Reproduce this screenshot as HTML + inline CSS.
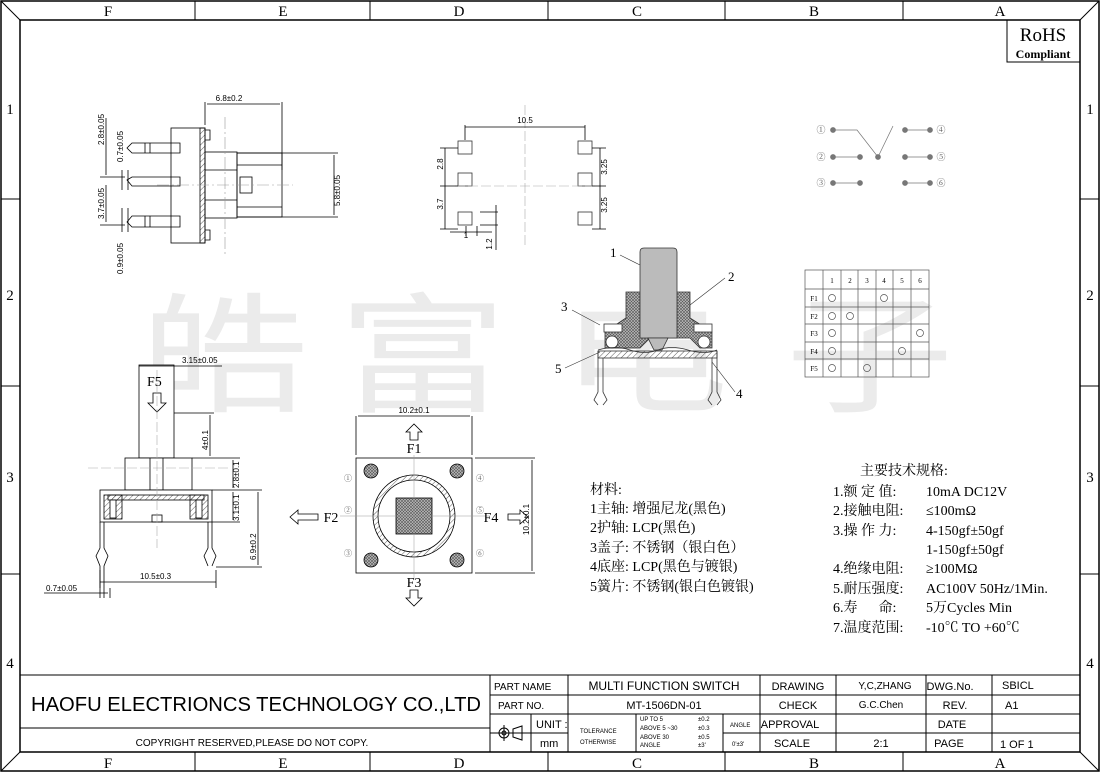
<!DOCTYPE html>
<html><head><meta charset="utf-8"><style>
html,body{margin:0;padding:0;background:#fff}
svg{display:block}
.t{font-family:"Liberation Sans","Noto Sans CJK SC",sans-serif}
.s{font-family:"Liberation Serif","Noto Serif CJK SC",serif}
</style></head><body>
<svg width="1100" height="773" viewBox="0 0 1100 773" xmlns="http://www.w3.org/2000/svg">
<defs>
<pattern id="h" width="4" height="4" patternUnits="userSpaceOnUse" patternTransform="rotate(45)"><line x1="0" y1="0" x2="0" y2="4" stroke="#333" stroke-width="0.8"/></pattern>
<pattern id="x" width="3" height="3" patternUnits="userSpaceOnUse"><rect width="3" height="3" fill="#bbb"/><path d="M0 0L3 3M3 0L0 3" stroke="#555" stroke-width="0.6"/></pattern>
</defs>
<!-- watermark -->
<g fill="#ebebeb" font-family="Noto Sans CJK SC,sans-serif" font-size="130">
<text transform="translate(140,402) scale(1.3,1)">皓</text>
<text transform="translate(338,402) scale(1.3,1)">富</text>
<text transform="translate(560,402) scale(1.3,1)">电</text>
<text transform="translate(785,402) scale(1.3,1)">子</text>
</g>
<!-- frame -->
<g stroke="#000" fill="none">
<rect x="1" y="1" width="1098" height="770" stroke-width="1.5"/>
<rect x="20" y="20" width="1060" height="732" stroke-width="1.5"/>
<path d="M1 1L20 20M1099 1L1080 20M1 771L20 752M1099 771L1080 752"/>
<path d="M195 1V20M370 1V20M548 1V20M725 1V20M903 1V20M195 752V771M370 752V771M548 752V771M725 752V771M903 752V771"/>
<path d="M1 199H20M1 386H20M1 574H20M1080 199H1099M1080 386H1099M1080 574H1099"/>
<rect x="1007" y="20" width="73" height="42"/>
</g>
<g class="s" font-size="15" text-anchor="middle">
<text x="108" y="16">F</text><text x="283" y="16">E</text><text x="459" y="16">D</text><text x="637" y="16">C</text><text x="814" y="16">B</text><text x="1000" y="16">A</text>
<text x="108" y="768">F</text><text x="283" y="768">E</text><text x="459" y="768">D</text><text x="637" y="768">C</text><text x="814" y="768">B</text><text x="1000" y="768">A</text>
<text x="10" y="114">1</text><text x="10" y="300">2</text><text x="10" y="482">3</text><text x="10" y="668">4</text>
<text x="1090" y="114">1</text><text x="1090" y="300">2</text><text x="1090" y="482">3</text><text x="1090" y="668">4</text>
<text x="1043" y="41" font-size="19">RoHS</text>
<text x="1043" y="58" font-size="12" font-weight="bold">Compliant</text>
</g>
<!-- title block -->
<g stroke="#000" fill="none">
<path d="M20 675H1080M20 728H490M490 695H1080M490 714H1080M490 733H568M723 733H1080M490 675V752"/>
<path d="M568 675V752M760 675V752M836 675V752M926 675V752M992 675V752M531 714V752M636 714V752M723 714V752"/>
</g>
<g class="t" font-size="11">
<text x="31" y="711" font-size="20" textLength="450" lengthAdjust="spacingAndGlyphs">HAOFU ELECTRIONCS TECHNOLOGY CO.,LTD</text>
<text x="252" y="746" text-anchor="middle" font-size="10">COPYRIGHT RESERVED,PLEASE DO NOT COPY.</text>
<text x="494" y="690" font-size="10">PART NAME</text><text x="498" y="709" font-size="10">PART NO.</text>
<text x="664" y="690" text-anchor="middle" font-size="12">MULTI FUNCTION SWITCH</text>
<text x="664" y="709" text-anchor="middle">MT-1506DN-01</text>
<text x="536" y="728">UNIT :</text><text x="540" y="747">mm</text>
<text x="580" y="733" font-size="6">TOLERANCE</text><text x="580" y="744" font-size="6">OTHERWISE</text>
<g font-size="6"><text x="640" y="721">UP TO 5</text><text x="640" y="730">ABOVE 5 ~30</text><text x="640" y="739">ABOVE 30</text><text x="640" y="747">ANGLE</text>
<text x="698" y="721">±0.2</text><text x="698" y="730">±0.3</text><text x="698" y="739">±0.5</text><text x="698" y="747">±3'</text>
<text x="730" y="727">ANGLE</text><text x="732" y="746">0'±3'</text></g>
<text x="798" y="690" text-anchor="middle">DRAWING</text><text x="798" y="709" text-anchor="middle">CHECK</text>
<text x="790" y="728" text-anchor="middle">APPROVAL</text><text x="792" y="747" text-anchor="middle">SCALE</text>
<text x="885" y="689" text-anchor="middle" font-size="10">Y,C,ZHANG</text><text x="881" y="708" text-anchor="middle" font-size="10">G.C.Chen</text>
<text x="881" y="747" text-anchor="middle">2:1</text>
<text x="950" y="690" text-anchor="middle">DWG.No.</text><text x="955" y="709" text-anchor="middle">REV.</text>
<text x="952" y="728" text-anchor="middle">DATE</text><text x="949" y="747" text-anchor="middle">PAGE</text>
<text x="1002" y="689">SBICL</text><text x="1005" y="709">A1</text><text x="1000" y="748">1 OF 1</text>
</g>
<g stroke="#000" fill="none"><circle cx="504" cy="733" r="5"/><circle cx="504" cy="733" r="2"/><path d="M496 733H513M504 725V741M513 729L522 726V740L513 737Z"/></g>

<!-- top-left side view -->
<g stroke="#000" fill="none" stroke-width="0.8">
<rect x="171" y="128" width="34" height="115"/>
<rect x="200" y="128" width="5" height="115" fill="url(#h)"/>
<path d="M205 130H210V140H205M205 230H210V240H205"/>
<rect x="205" y="152" width="32" height="66"/>
<path d="M205 170H237M205 200H237"/>
<rect x="237" y="153" width="45" height="64"/>
<path d="M237 165H282M237 207H282"/>
<rect x="240" y="177" width="12" height="16"/>
<path d="M127 148L132 143H180V153H132ZM145 143V153M150 143V153"/>
<path d="M127 180L132 177H180V186H132Z"/>
<path d="M127 222L132 216H180V227H132ZM145 216V227M150 216V227"/>
<path d="M205 102V125M282 102V170M207 104H280M237 153H338M237 217H338M334 155V215" />
<path d="M106 118V175M106 185V222M100 177H125M100 225H125M122 170V190M122 208V232M128 170V190M128 208V232"/>
</g>
<path d="M225 117V255M157 185H293" stroke="#999" stroke-width="0.6" stroke-dasharray="12 3 2 3"/>
<g class="t" font-size="8">
<text x="229" y="101" text-anchor="middle">6.8±0.2</text>
<text transform="translate(340,206) rotate(-90)">5.8±0.05</text>
<text transform="translate(104,145) rotate(-90)">2.8±0.05</text>
<text transform="translate(123,162) rotate(-90)">0.7±0.05</text>
<text transform="translate(104,219) rotate(-90)">3.7±0.05</text>
<text transform="translate(123,274) rotate(-90)">0.9±0.05</text>
</g>

<!-- pad layout -->
<g stroke="#333" fill="#fff" stroke-width="0.8">
<rect x="458" y="141" width="14" height="13"/><rect x="458" y="173" width="14" height="13"/><rect x="458" y="212" width="14" height="13"/>
<rect x="578" y="141" width="14" height="13"/><rect x="578" y="173" width="14" height="13"/><rect x="578" y="212" width="14" height="13"/>
</g>
<path d="M525 105V247M455 186H595" stroke="#aaa" stroke-width="0.6" stroke-dasharray="10 3"/>
<g stroke="#000" fill="none" stroke-width="0.8">
<path d="M465 125V140M585 125V140M465 127H585M445 148V229M440 148H458M440 186H458M440 229H458M600 148V229M592 148H606M592 186H606M592 229H606M466 226V236M477 226V236M450 232H492M496 205V250M480 212H498M480 225H498"/>
</g>
<g class="t" font-size="8" text-anchor="middle">
<text x="525" y="123">10.5</text>
<text transform="translate(443,164) rotate(-90)">2.8</text><text transform="translate(443,204) rotate(-90)">3.7</text>
<text transform="translate(607,167) rotate(-90)">3.25</text><text transform="translate(607,205) rotate(-90)">3.25</text>
<text x="466" y="238">1</text><text transform="translate(492,244) rotate(-90)">1.2</text>
</g>

<!-- schematic -->
<g stroke="#777" fill="#777" stroke-width="0.7">
<path d="M833 130H857L878 157M878 157L893 126M833 157H860M833 183H860M905 130H930M905 157H930M905 183H930" fill="none"/>
<circle cx="833" cy="130" r="2.5"/><circle cx="833" cy="157" r="2.5"/><circle cx="833" cy="183" r="2.5"/>
<circle cx="860" cy="157" r="2.5"/><circle cx="860" cy="183" r="2.5"/><circle cx="878" cy="157" r="2.5"/>
<circle cx="905" cy="130" r="2.5"/><circle cx="905" cy="157" r="2.5"/><circle cx="905" cy="183" r="2.5"/>
<circle cx="930" cy="130" r="2.5"/><circle cx="930" cy="157" r="2.5"/><circle cx="930" cy="183" r="2.5"/>
</g>
<g class="s" font-size="9" fill="#555" text-anchor="middle">
<text x="821" y="133">①</text><text x="821" y="160">②</text><text x="821" y="186">③</text>
<text x="941" y="133">④</text><text x="941" y="160">⑤</text><text x="941" y="186">⑥</text>
</g>

<!-- cross section -->
<g stroke="#333" stroke-width="0.8">
<path d="M626 292H640V338H677V292H690V318L712 332V348H700L690 338H650L640 348H605V332L626 318Z" fill="url(#x)"/>
<path d="M644 248H673Q677 248 677 252V338H640V252Q640 248 644 248Z" fill="#bbb"/>
<path d="M648 338H668L662 350H654Z" fill="#bbb"/>
<rect x="604" y="324" width="18" height="8" fill="#fff"/><rect x="694" y="324" width="18" height="8" fill="#fff"/>
<circle cx="612" cy="342" r="6" fill="#fff"/><circle cx="704" cy="342" r="6" fill="#fff"/>
<path d="M598 350Q615 345 630 350T658 350T688 350T717 350" fill="none"/>
<rect x="598" y="351" width="119" height="7" fill="url(#h)"/>
<path d="M598 351V392L594 400L598 405M603 358V392L607 400L603 405M717 351V392L721 400L717 405M712 358V392L708 400L712 405" fill="none"/>
<path d="M620 255L640 265M725 278L690 305M572 310L600 325M565 368L600 352M735 392L712 362" fill="none" stroke-width="0.6"/>
</g>
<g class="s" font-size="13">
<text x="610" y="257">1</text><text x="728" y="281">2</text><text x="561" y="311">3</text><text x="555" y="373">5</text><text x="736" y="398">4</text>
</g>

<!-- table -->
<g stroke="#555" fill="none" stroke-width="0.7">
<rect x="805" y="270" width="124" height="107"/>
<path d="M823 270V377M841 270V377M858 270V377M876 270V377M893 270V377M911 270V377M805 289H929M805 307H929M805 324H929M805 342H929M805 359H929"/>
<circle cx="832" cy="298" r="3.5"/><circle cx="884" cy="298" r="3.5"/>
<circle cx="832" cy="316" r="3.5"/><circle cx="850" cy="316" r="3.5"/>
<circle cx="832" cy="333" r="3.5"/><circle cx="920" cy="333" r="3.5"/>
<circle cx="832" cy="351" r="3.5"/><circle cx="902" cy="351" r="3.5"/>
<circle cx="832" cy="368" r="3.5"/><circle cx="867" cy="368" r="3.5"/>
</g>
<g class="s" font-size="7" text-anchor="middle">
<text x="832" y="283">1</text><text x="850" y="283">2</text><text x="867" y="283">3</text><text x="884" y="283">4</text><text x="902" y="283">5</text><text x="920" y="283">6</text>
<text x="814" y="301">F1</text><text x="814" y="319">F2</text><text x="814" y="336">F3</text><text x="814" y="354">F4</text><text x="814" y="371">F5</text>
</g>

<!-- bottom-left side view -->
<g stroke="#000" fill="none" stroke-width="0.8">
<rect x="139" y="365" width="35" height="93" fill="#fff"/>
<rect x="125" y="458" width="67" height="32" fill="#fff"/>
<path d="M150 458V490M163 458V490"/>
<rect x="100" y="490" width="112" height="32" fill="#fff"/>
<rect x="108" y="495" width="96" height="5" fill="url(#h)"/>
<rect x="104" y="495" width="18" height="24" fill="url(#h)"/><rect x="190" y="495" width="18" height="24" fill="url(#h)"/>
<rect x="110" y="500" width="6" height="18" fill="#fff"/><rect x="196" y="500" width="6" height="18" fill="#fff"/>
<rect x="152" y="515" width="10" height="7"/>
<path d="M100 522V548L96 556L100 566V598M104 522V548L108 556L104 566V598M212 522V548L216 556L212 566M208 522V548L204 556L208 566"/>
<path d="M139 366H222M174 413H214M210 415V456M192 458H240M212 490H262M212 522H240M216 567H262M258 492V565M233 460V488M233 492V520M100 582H216M100 570V588M216 570V588M44 593H108M110 588V598"/>
<path d="M153 393H161V403H166L157 412L148 403H153Z" fill="#fff"/>
</g>
<path d="M88 468H230M157 370V548" stroke="#aaa" stroke-width="0.6" stroke-dasharray="10 3"/>
<g class="t" font-size="8">
<text x="182" y="363">3.15±0.05</text>
<text transform="translate(208,450) rotate(-90)">4±0.1</text>
<text transform="translate(239,488) rotate(-90)">2.8±0.1</text>
<text transform="translate(239,521) rotate(-90)">3.1±0.1</text>
<text transform="translate(256,560) rotate(-90)">6.9±0.2</text>
<text x="140" y="579">10.5±0.3</text>
<text x="46" y="591">0.7±0.05</text>
</g>
<text x="147" y="386" class="s" font-size="14">F5</text>

<!-- front view -->
<g stroke="#000" fill="none" stroke-width="0.8">
<rect x="356" y="458" width="116" height="115" fill="#fff"/>
<circle cx="414" cy="516" r="41" fill="url(#h)"/>
<circle cx="414" cy="516" r="36" fill="#fff"/>
<rect x="396" y="498" width="36" height="36" fill="url(#x)"/>
<circle cx="371" cy="471" r="7" fill="url(#x)"/><circle cx="457" cy="471" r="7" fill="url(#x)"/>
<circle cx="371" cy="560" r="7" fill="url(#x)"/><circle cx="457" cy="560" r="7" fill="url(#x)"/>
<path d="M356 416V455M472 416V455M358 416H470M475 458H535M475 573H535M532 460V571"/>
<path d="M410 440V432H406L414 424L422 432H418V440Z" fill="#fff"/>
<path d="M410 590V598H406L414 606L422 598H418V590Z" fill="#fff"/>
<path d="M318 514H298V510L290 517L298 524V520H318Z" fill="#fff"/>
<path d="M508 514H520V510L528 517L520 524V520H508Z" fill="#fff"/>
</g>
<path d="M414 455V580M340 516H490" stroke="#999" stroke-width="0.5"/>
<g class="s" font-size="8" fill="#555" text-anchor="middle">
<text x="348" y="481">①</text><text x="348" y="513">②</text><text x="348" y="556">③</text>
<text x="480" y="481">④</text><text x="480" y="513">⑤</text><text x="480" y="556">⑥</text>
</g>
<g class="s" font-size="14" text-anchor="middle">
<text x="414" y="453">F1</text><text x="414" y="587">F3</text><text x="331" y="522">F2</text><text x="491" y="522">F4</text>
</g>
<g class="t" font-size="8">
<text x="414" y="413" text-anchor="middle">10.2±0.1</text>
<text transform="translate(529,535) rotate(-90)">10.2±0.1</text>
</g>

<!-- spec text -->
<g class="s" font-size="14">
<text x="590" y="494">材料:</text>
<text x="590" y="513">1主轴: 增强尼龙(黑色)</text>
<text x="590" y="532">2护轴: LCP(黑色)</text>
<text x="590" y="552">3盖子: 不锈钢（银白色）</text>
<text x="590" y="571">4底座: LCP(黑色与镀银)</text>
<text x="590" y="591">5簧片: 不锈钢(银白色镀银)</text>
<text x="860" y="475">主要技术规格:</text>
<text x="833" y="496">1.额 定 值:</text><text x="926" y="496">10mA DC12V</text>
<text x="833" y="515">2.接触电阻:</text><text x="926" y="515">≤100mΩ</text>
<text x="833" y="535">3.操 作 力:</text><text x="926" y="535">4-150gf±50gf</text>
<text x="926" y="554">1-150gf±50gf</text>
<text x="833" y="573">4.绝缘电阻:</text><text x="926" y="573">≥100MΩ</text>
<text x="833" y="593">5.耐压强度:</text><text x="926" y="593">AC100V 50Hz/1Min.</text>
<text x="833" y="612">6.寿&#160;&#160;&#160;&#160;&#160;&#160;命:</text><text x="926" y="612">5万Cycles Min</text>
<text x="833" y="632">7.温度范围:</text><text x="926" y="632">-10℃ TO +60℃</text>
</g>
</svg>
</body></html>
